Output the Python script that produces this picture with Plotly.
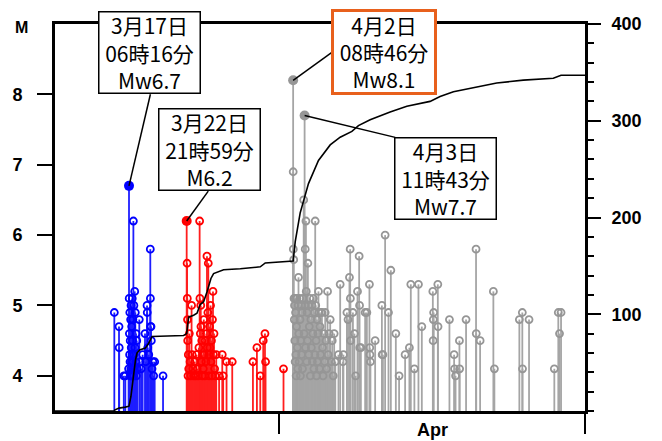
import plotly.graph_objects as go
import pandas as pd

# time values are "day of March 2014" (1.0 = Mar 1 00:00, 32.0 = Apr 1 00:00)
BASE = pd.Timestamp("2014-03-01")

blue_events = [(15.82, 4.9), (16.28, 4.7), (16.30, 4.4), (16.75, 4.0), (16.90, 4.0), (17.22, 4.1),
               (17.28, 5.1), (17.30, 4.6), (17.32, 4.3), (17.34, 4.9), (17.36, 4.2), (17.38, 4.5),
               (17.40, 4.0), (17.42, 4.8), (17.44, 4.1), (17.46, 5.0), (17.48, 4.4), (17.50, 4.2),
               (17.52, 4.7), (17.54, 4.0), (17.56, 4.3), (17.58, 5.1), (17.60, 4.5), (17.62, 4.1),
               (17.64, 4.8), (17.66, 4.2), (17.69, 6.2), (17.72, 4.0), (17.74, 5.0), (17.76, 4.3),
               (17.79, 4.1), (17.82, 5.2), (17.85, 4.4), (17.88, 4.9), (17.92, 4.2), (17.95, 4.6),
               (17.98, 4.0), (18.02, 4.5), (18.06, 4.1), (18.27, 4.8), (18.32, 4.2), (18.45, 4.1),
               (18.60, 4.3), (18.83, 4.6), (18.90, 4.2), (19.03, 5.0), (19.05, 4.9), (19.10, 4.4),
               (19.20, 4.3), (19.35, 5.8), (19.36, 5.1), (19.38, 4.7), (19.42, 4.7), (19.45, 4.5),
               (19.52, 4.1), (19.60, 4.2), (19.68, 4.0), (19.78, 4.2), (20.60, 4.0)]

red_events = [(22.96, 5.6), (22.98, 5.1), (23.00, 4.8), (23.02, 4.5), (23.05, 4.0), (23.08, 4.3),
              (23.12, 4.1), (23.18, 4.6), (23.25, 4.2), (23.32, 4.0), (23.40, 5.0), (23.45, 4.3),
              (23.52, 4.1), (23.60, 4.0), (23.70, 4.2), (23.80, 4.0), (23.89, 4.3), (23.95, 4.1),
              (24.05, 4.0), (24.12, 4.4), (24.19, 6.2), (24.22, 5.1), (24.26, 4.6), (24.30, 5.0),
              (24.32, 4.7), (24.36, 4.2), (24.40, 4.5), (24.45, 4.0), (24.50, 4.3), (24.55, 4.1),
              (24.60, 4.8), (24.65, 4.3), (24.70, 4.0), (24.75, 4.5), (24.80, 4.2), (24.85, 4.6),
              (24.91, 5.7), (24.95, 4.4), (25.00, 4.9), (25.04, 5.6), (25.08, 4.3), (25.12, 4.0),
              (25.16, 4.7), (25.20, 4.4), (25.26, 5.0), (25.30, 4.2), (25.35, 4.5), (25.40, 4.0),
              (25.45, 4.8), (25.50, 5.2), (25.55, 4.3), (25.60, 4.6), (25.66, 4.1), (25.72, 4.0),
              (25.82, 4.3), (26.10, 4.0), (26.41, 4.3), (26.50, 4.0), (26.83, 4.2), (27.39, 4.2),
              (29.42, 4.2), (29.81, 4.4), (30.14, 4.0), (30.43, 4.5), (30.60, 4.6), (30.66, 4.2),
              (32.42, 4.1)]

gray_events = [(33.37, 6.9), (33.38, 5.8), (33.42, 5.65), (33.45, 5.1), (33.48, 4.8), (33.50, 5.0),
               (33.53, 4.5), (33.56, 4.2), (33.58, 5.1), (33.60, 4.9), (33.63, 4.3), (33.66, 4.0),
               (33.70, 4.7), (33.74, 5.1), (33.78, 4.4), (33.82, 4.1), (33.86, 5.0), (33.89, 5.4),
               (33.92, 4.6), (33.96, 4.2), (34.00, 5.1), (34.04, 4.8), (34.08, 4.0), (34.12, 4.5),
               (34.16, 5.0), (34.20, 4.3), (34.24, 4.9), (34.28, 4.1), (34.32, 5.1), (34.40, 6.5),
               (34.44, 4.6), (34.52, 5.0), (34.55, 5.8), (34.58, 4.4), (34.62, 6.2), (34.65, 5.2),
               (34.70, 4.2), (34.74, 4.9), (34.78, 4.5), (34.81, 5.6), (34.85, 5.0), (34.90, 4.3),
               (34.95, 4.7), (35.00, 5.1), (35.05, 4.0), (35.10, 4.8), (35.15, 4.4), (35.20, 5.0),
               (35.25, 4.2), (35.30, 4.6), (35.35, 5.1), (35.40, 4.1), (35.45, 4.9), (35.50, 4.3),
               (35.53, 6.2), (35.58, 5.0), (35.62, 4.5), (35.66, 4.0), (35.70, 4.8), (35.75, 4.2),
               (35.80, 4.6), (35.85, 5.2), (35.90, 4.9), (35.95, 4.1), (36.00, 4.7), (36.05, 4.3),
               (36.10, 4.9), (36.19, 4.9), (36.25, 4.4), (36.30, 4.0), (36.38, 4.6), (36.45, 4.2),
               (36.51, 4.9), (36.58, 4.5), (36.65, 4.1), (36.74, 5.2), (36.80, 4.3), (36.90, 4.6),
               (37.00, 4.8), (37.10, 4.2), (37.20, 4.5), (37.30, 4.0), (37.39, 4.6), (37.50, 4.2),
               (37.81, 4.3), (37.98, 5.3), (38.25, 4.2), (38.30, 4.3), (38.64, 4.9), (38.75, 4.8),
               (38.89, 5.4), (38.96, 5.8), (38.98, 5.1), (39.00, 4.5), (39.23, 4.9), (39.38, 4.6),
               (39.50, 4.0), (39.68, 5.2), (39.84, 5.7), (39.88, 5.0), (39.90, 4.4), (40.01, 4.4),
               (40.43, 4.9), (40.60, 4.9), (40.85, 5.3), (40.88, 4.4), (40.90, 4.3), (40.95, 4.2),
               (41.41, 4.5), (42.07, 5.0), (42.10, 4.3), (42.17, 4.3), (42.39, 6.0), (42.72, 4.9),
               (42.95, 5.5), (43.44, 4.6), (43.76, 4.0), (44.35, 4.3), (44.77, 4.4), (44.91, 5.3),
               (45.26, 4.1), (45.66, 5.3), (45.99, 4.7), (47.07, 5.2), (47.10, 4.5), (47.12, 4.8),
               (47.15, 4.9), (47.56, 5.3), (47.58, 4.7), (48.70, 4.8), (49.16, 4.3), (49.20, 4.1),
               (49.30, 4.0), (49.68, 4.5), (49.70, 4.1), (50.33, 4.8), (51.31, 5.8), (51.33, 4.6),
               (51.71, 4.5), (53.01, 5.2), (53.11, 4.1), (55.56, 4.8), (55.85, 4.9), (55.87, 4.1),
               (56.51, 4.8), (58.99, 4.1), (59.38, 4.9), (59.50, 4.6), (59.65, 4.9)]

# labelled main shocks
key_t = [17.26, 22.92, 33.365, 34.49]
key_m = [6.7, 6.2, 8.2, 7.7]
key_group = ["blue", "red", "gray", "gray"]
key_text = ["3月17日<br>06時16分<br>Mw6.7", "3月22日<br>21時59分<br>M6.2",
            "4月2日<br>08時46分<br>Mw8.1", "4月3日<br>11時43分<br>Mw7.7"]

# cumulative number of events (right axis)
cum_t = [10.0, 15.82, 15.85, 16.28, 16.9, 17.26, 17.45, 17.56, 17.72, 17.9, 18.05, 18.30, 18.86,
         19.19, 19.52, 22.62, 22.92, 23.11, 23.60, 23.93, 24.25, 24.58, 24.91, 25.30, 25.56,
         26.54, 28.18, 30.14, 30.63, 32.42, 33.365, 33.57, 34.06, 34.25, 34.87, 35.85, 37.0,
         37.98, 39.13, 39.77, 40.92, 42.88, 44.52, 46.80, 47.78, 49.09, 51.38, 53.34, 55.95,
         58.89, 59.65, 62.0]
cum_n = [0, 0, 1, 3, 4, 5, 15, 25, 40, 53, 60, 63, 65, 70, 77, 78, 80, 97, 99, 101, 110, 113, 123,
         137, 142, 146, 147, 149, 153, 154, 155, 175, 205, 212, 235, 259, 275, 283, 289, 295, 301,
         309, 315, 320, 325, 330, 335, 339, 342, 344, 347, 347]

M_tickvals = [4, 5, 6, 7, 8]
N_tickvals = [100, 200, 300, 400]
x_tickvals = ["2014-04-01", "2014-05-01"]
month_label = "Apr"
M_BOTTOM = 3.5

colors = {"blue": ("rgb(30,30,255)", "rgb(0,0,255)"),
          "red": ("rgb(255,30,30)", "rgb(255,0,0)"),
          "gray": ("rgb(165,165,165)", "rgb(150,150,150)")}


def to_date(ts):
    return [BASE + pd.Timedelta(days=t - 1) for t in ts]


fig = go.Figure()

groups = {"gray": gray_events, "blue": blue_events, "red": red_events}
for g, ev in groups.items():
    ts = [e[0] for e in ev] + [t for t, gg in zip(key_t, key_group) if gg == g]
    ms = [e[1] for e in ev] + [m for m, gg in zip(key_m, key_group) if gg == g]
    dates = to_date(ts)
    sx, sy = [], []
    for d, m in zip(dates, ms):
        sx += [d, d, None]
        sy += [M_BOTTOM, m, None]
    fig.add_trace(go.Scatter(x=sx, y=sy, mode="lines",
                             line=dict(color=colors[g][0], width=1.8), hoverinfo="skip"))
    fig.add_trace(go.Scatter(x=to_date([e[0] for e in ev]), y=[e[1] for e in ev], mode="markers",
                             marker=dict(symbol="circle-open", size=7, color=colors[g][1],
                                         line=dict(width=1.8)),
                             hoverinfo="skip"))

fig.add_trace(go.Scatter(x=to_date(key_t), y=key_m, mode="markers",
                         marker=dict(symbol="circle", size=10,
                                     color=[colors[g][1] for g in key_group]),
                         hoverinfo="skip"))

fig.add_trace(go.Scatter(x=to_date(cum_t), y=cum_n, mode="lines", yaxis="y2",
                         line=dict(color="black", width=1.6), hoverinfo="skip"))

jp = "Noto Sans CJK JP"
# label boxes: (paper x, paper y, connector dx, dy in pixels, border colour, border width)
box_pos = [(0.1792, 0.9264, 21.4, 91.6, "black", 1.5),
           (0.2915, 0.6757, 21.6, 29.9, "black", 1.5),
           (0.6213, 0.9264, 40.1, 28.9, "rgb(232,96,28)", 3),
           (0.7368, 0.5995, 90.6, -21.9, "black", 1.5)]

annotations = []
shapes = []
for (px, py, dx, dy, bc, bw), t, m, txt in zip(box_pos, key_t, key_m, key_text):
    d = to_date([t])[0]
    shapes.append(dict(type="line", xref="x", yref="y", xsizemode="pixel", ysizemode="pixel",
                       xanchor=d, yanchor=m, x0=0, y0=0, x1=dx, y1=dy,
                       line=dict(color="black", width=1.5), layer="above"))
    annotations.append(dict(text=txt, xref="paper", yref="paper", x=px, y=py,
                            xanchor="center", yanchor="middle", showarrow=False,
                            bgcolor="white", bordercolor=bc, borderwidth=bw, borderpad=1,
                            width=98, height=78, font=dict(family=jp, size=21, color="black")))

annotations.append(dict(text="M", xref="paper", yref="paper", x=-0.0623, y=0.99,
                        showarrow=False, xanchor="center", yanchor="middle",
                        font=dict(family="Liberation Sans", size=16, color="black", weight="bold")))
annotations.append(dict(text=month_label, xref="x", yref="paper", x="2014-04-16", y=-0.049,
                        showarrow=False, xanchor="center", yanchor="middle",
                        font=dict(family="Liberation Sans", size=18, color="black", weight="bold")))

# page body has an 8px margin: plot area kept at x 55-585, y 24-411 of the window
fig.update_layout(
    width=646, height=433, template="none",
    margin=dict(l=47, r=69, t=16, b=30),
    paper_bgcolor="white", plot_bgcolor="white", showlegend=False,
    xaxis=dict(type="date", range=["2014-03-10", "2014-05-01"], showline=True, linecolor="black",
               linewidth=3, mirror=True, ticks="outside", tickmode="array", tickvals=x_tickvals,
               ticklen=20, tickwidth=2, tickcolor="black", showticklabels=False,
               showgrid=False, zeroline=False, automargin=False),
    yaxis=dict(range=[M_BOTTOM, 9.0], tickmode="array", tickvals=M_tickvals, ticks="outside",
               ticklen=15, tickwidth=2, tickcolor="black", showline=True, linecolor="black",
               linewidth=3, showgrid=False, zeroline=False, automargin=False,
               ticklabelstandoff=11,
               tickfont=dict(family="Liberation Sans", size=18, color="black", weight="bold")),
    yaxis2=dict(range=[0, 400], overlaying="y", side="right", tickmode="array",
                tickvals=N_tickvals, ticks="outside", ticklen=13, tickwidth=2, tickcolor="black",
                minor=dict(tickmode="linear", tick0=0, dtick=20, ticks="outside", ticklen=6,
                           tickwidth=1.5, tickcolor="black", showgrid=False),
                showline=True, linecolor="black", linewidth=3, showgrid=False, zeroline=False,
                automargin=False, ticklabelstandoff=7,
                tickfont=dict(family="Liberation Sans", size=18, color="black", weight="bold")),
    annotations=annotations, shapes=shapes,
)

fig.write_html("out.html")
